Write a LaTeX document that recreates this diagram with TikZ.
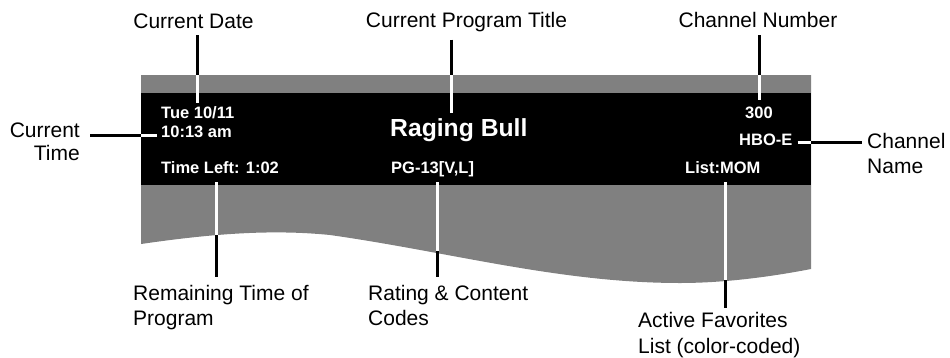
\documentclass[tikz,border=0pt]{standalone}
\usepackage{fontspec}
\setmainfont{Liberation Sans}
\definecolor{osdgray}{HTML}{808080}
\begin{document}
\begin{tikzpicture}[x=1pt,y=-1pt,
  lbl/.style={font=\fontsize{21}{24.5}\selectfont, inner sep=0pt, text=black},
  osd/.style={font=\fontsize{16.5}{19}\selectfont\bfseries, text=white, inner sep=0pt},
  osdbig/.style={font=\fontsize{24.7}{28}\selectfont\bfseries, text=white, inner sep=0pt},
  blk/.style={line width=3pt, black},
  wht/.style={line width=3pt, white}]
\useasboundingbox (0,0) rectangle (950,357);
% screen band
\fill[osdgray] (141,75) -- (811,75) -- (811,269)
  .. controls (780,275) and (730,283) .. (680,283)
  .. controls (560,283) and (450,252) .. (330,235)
  .. controls (270,229) and (210,234) .. (141,244) -- cycle;
\fill[black] (141,93) rectangle (811,185);
% on-screen texts
\node[osd, anchor=base west] (date) at (161,118) {Tue 10/11};
\node[osd, anchor=base west] (time) at (161,137) {10:13 am};
\node[osd, anchor=base west] (left) at (161,173) {Time Left: 1:02};
\node[osdbig, anchor=base west] (title) at (390,136) {Raging Bull};
\node[osd, anchor=base west] (rating) at (391,173) {PG-13[V,L]};
\node[osd, anchor=base west] (num) at (745,118) {300};
\node[osd, anchor=base west] (name) at (739,145) {HBO-E};
\node[osd, anchor=base west] (list) at (685,173) {List:MOM};
% labels (base anchor of a multi-line node = last line)
\node[lbl, anchor=base] (lDate) at (193.5,28) {Current Date};
\node[lbl, anchor=base] (lTitle) at (466.5,27) {Current Program Title};
\node[lbl, anchor=base] (lNum) at (758,27) {Channel Number};
\node[lbl, align=right, anchor=base east, font=\fontsize{21}{23}\selectfont] (lTime) at (80,160) {Current\\Time};
\node[lbl, align=left, anchor=base west] (lName) at (867,173) {Channel\\Name};
\node[lbl, align=left, anchor=base west] (lRem) at (133,325) {Remaining Time of\\Program};
\node[lbl, align=left, anchor=base west] (lRat) at (368,325) {Rating \& Content\\Codes};
\node[lbl, align=left, anchor=base west, font=\fontsize{21}{26}\selectfont] (lFav) at (638,353) {Active Favorites\\List (color-coded)};
% connector break points
\coordinate (cDate) at (197,75);
\coordinate (cTitle) at (451,75);
\coordinate (cNum) at (759,75);
\coordinate (cTime) at (141,135);
\coordinate (cName) at (811,142);
\coordinate (cRem) at (216,235);
\coordinate (cRat) at (437,251);
\coordinate (cFav) at (725,280);
% connectors
\draw[blk, shorten <=7pt] (cDate |- lDate.south) -- (cDate);
\draw[wht, shorten >=3pt] (cDate) -- (cDate |- date.north);
\draw[blk, shorten <=8pt] (cTitle |- lTitle.south) -- (cTitle);
\draw[wht, shorten >=5pt] (cTitle) -- (cTitle |- title.north);
\draw[blk, shorten <=8pt] (cNum |- lNum.south) -- (cNum);
\draw[wht, shorten >=6pt] (cNum) -- (cNum |- num.north);
\draw[blk, shorten <=10pt] (cTime -| lTime.east) -- (cTime);
\draw[wht, shorten >=4pt] (cTime) -- (cTime -| time.west);
\draw[wht, shorten <=5pt] (cName -| name.east) -- (cName);
\draw[blk, shorten >=5pt] (cName) -- (cName -| lName.west);
\draw[wht, shorten <=9pt] (cRem |- left.south) -- (cRem);
\draw[blk, shorten >=8pt] (cRem) -- (cRem |- lRem.north);
\draw[wht, shorten <=5.5pt] (cRat |- rating.south) -- (cRat);
\draw[blk, shorten >=8pt] (cRat) -- (cRat |- lRat.north);
\draw[wht, shorten <=9pt] (cFav |- list.south) -- (cFav);
\draw[blk, shorten >=4pt] (cFav) -- (cFav |- lFav.north);
\end{tikzpicture}
\end{document}
